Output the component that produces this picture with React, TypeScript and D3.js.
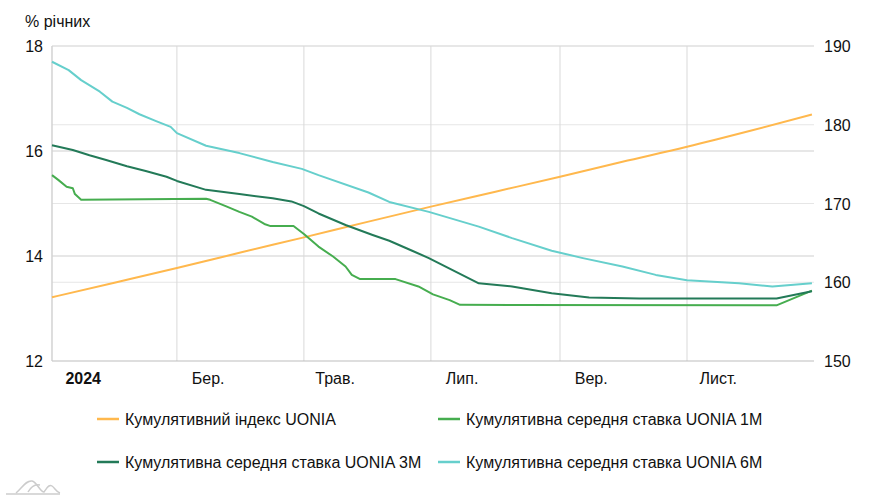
import React from "react";
import * as d3 from "d3";

const monthTicks = ["2024-01-01", "2024-03-01", "2024-05-01", "2024-07-01", "2024-09-01", "2024-11-01"];
const monthLabels = ["2024", "Бер.", "Трав.", "Лип.", "Вер.", "Лист."];
const leftTicks = [12, 14, 16, 18];
const rightTicks = [150, 160, 170, 180, 190];

const indexDates = ["2024-01-01", "2024-02-01", "2024-03-01", "2024-04-01", "2024-05-01", "2024-06-01", "2024-07-01", "2024-08-01", "2024-09-01", "2024-10-01", "2024-11-01", "2024-12-01", "2024-12-31"];
const indexValues = [158.1, 160.0, 161.8, 163.8, 165.7, 167.7, 169.6, 171.5, 173.4, 175.3, 177.2, 179.2, 181.3];

const m1Dates = ["2024-01-01", "2024-01-04", "2024-01-08", "2024-01-11", "2024-01-12", "2024-01-15", "2024-03-15", "2024-03-17", "2024-03-25", "2024-03-31", "2024-04-06", "2024-04-12", "2024-04-15", "2024-04-26", "2024-05-01", "2024-05-08", "2024-05-15", "2024-05-21", "2024-05-24", "2024-05-28", "2024-06-14", "2024-06-25", "2024-07-02", "2024-07-10", "2024-07-15", "2024-12-14", "2024-12-31"];
const m1Values = [15.54, 15.45, 15.32, 15.29, 15.18, 15.07, 15.09, 15.07, 14.94, 14.84, 14.75, 14.61, 14.57, 14.57, 14.42, 14.18, 13.99, 13.80, 13.64, 13.56, 13.56, 13.42, 13.27, 13.16, 13.07, 13.06, 13.34];

const m3Dates = ["2024-01-01", "2024-01-11", "2024-01-19", "2024-01-27", "2024-02-06", "2024-02-15", "2024-02-25", "2024-03-01", "2024-03-15", "2024-03-31", "2024-04-16", "2024-04-25", "2024-05-01", "2024-05-08", "2024-05-21", "2024-06-03", "2024-06-11", "2024-06-22", "2024-06-30", "2024-07-24", "2024-08-09", "2024-08-28", "2024-09-15", "2024-10-09", "2024-12-14", "2024-12-31"];
const m3Values = [16.11, 16.02, 15.92, 15.83, 15.71, 15.62, 15.51, 15.43, 15.26, 15.18, 15.10, 15.04, 14.95, 14.81, 14.59, 14.40, 14.29, 14.10, 13.96, 13.48, 13.42, 13.29, 13.21, 13.19, 13.19, 13.33];

const m6Dates = ["2024-01-01", "2024-01-09", "2024-01-15", "2024-01-24", "2024-01-30", "2024-02-06", "2024-02-12", "2024-02-20", "2024-02-27", "2024-03-01", "2024-03-15", "2024-03-31", "2024-04-16", "2024-04-30", "2024-05-08", "2024-06-01", "2024-06-11", "2024-06-30", "2024-07-24", "2024-08-09", "2024-08-28", "2024-09-12", "2024-10-01", "2024-10-17", "2024-11-01", "2024-11-26", "2024-12-12", "2024-12-31"];
const m6Values = [17.70, 17.54, 17.35, 17.13, 16.94, 16.82, 16.70, 16.57, 16.46, 16.34, 16.10, 15.96, 15.79, 15.66, 15.54, 15.21, 15.03, 14.84, 14.56, 14.34, 14.10, 13.96, 13.80, 13.64, 13.54, 13.48, 13.42, 13.48];

const seriesNames = [
  "Кумулятивний індекс UONIA",
  "Кумулятивна середня ставка UONIA 1M",
  "Кумулятивна середня ставка UONIA 3M",
  "Кумулятивна середня ставка UONIA 6M",
];
const colors = ["#ffb84d", "#46ad4f", "#237a58", "#66cfcc"];

const FONT = "'Liberation Sans', Arial, sans-serif";

export default function App() {
  const W = 891, H = 500;
  const left = 52, right = 814, top = 46, bottom = 361;
  const parse = d3.timeParse("%Y-%m-%d");
  const x = d3.scaleTime().domain([parse("2024-01-01")!, parse("2025-01-01")!]).range([left, right]);
  const yL = d3.scaleLinear().domain([12, 18]).range([bottom, top]);
  const yR = d3.scaleLinear().domain([150, 190]).range([bottom, top]);

  const mk = (dates: string[], vals: number[], y: d3.ScaleLinear<number, number>, curve: d3.CurveFactory) =>
    d3.line<number>().x((_, i) => x(parse(dates[i])!)).y((v) => y(v)).curve(curve)(vals) || "";

  const paths = [
    mk(indexDates, indexValues, yR, d3.curveMonotoneX),
    mk(m1Dates, m1Values, yL, d3.curveLinear),
    mk(m3Dates, m3Values, yL, d3.curveLinear),
    mk(m6Dates, m6Values, yL, d3.curveLinear),
  ];

  const legendPos = [
    [97, 419], [438, 419], [97, 462], [438, 462],
  ];

  return (
    <svg width={W} height={H} style={{ position: "absolute", left: 0, top: 0, background: "#fff" }} fontFamily={FONT}>
      {rightTicks.filter((t) => t !== 150 && t !== 190).map((t) => (
        <line key={"r" + t} x1={left} x2={right} y1={yR(t)} y2={yR(t)} stroke="#e6e6e6" strokeWidth={1} />
      ))}
      {leftTicks.filter((t) => t !== 12).map((t) => (
        <line key={"l" + t} x1={left} x2={right} y1={yL(t)} y2={yL(t)} stroke="#cfcfcf" strokeWidth={1} />
      ))}
      {monthTicks.map((d) => (
        <line key={d} x1={x(parse(d)!)} x2={x(parse(d)!)} y1={top} y2={bottom} stroke="#d9d9d9" strokeWidth={1} />
      ))}
      <line x1={left} x2={right} y1={bottom} y2={bottom} stroke="#bdbdbd" strokeWidth={1} />
      <line x1={left} x2={left} y1={top} y2={bottom} stroke="#cfcfcf" strokeWidth={1} />

      {leftTicks.map((t) => (
        <text key={"lt" + t} x={43} y={yL(t) + 6} textAnchor="end" fontSize={16} fill="#111">{t}</text>
      ))}
      {rightTicks.map((t) => (
        <text key={"rt" + t} x={824} y={yR(t) + 6} fontSize={16} fill="#111">{t}</text>
      ))}
      {monthTicks.map((d, i) => {
        const st = parse(d)!;
        const mid = new Date(st.getFullYear(), st.getMonth(), 16);
        return (
          <text key={"mt" + d} x={x(mid)} y={384} textAnchor="middle" fontSize={16} fill="#111" fontWeight={i === 0 ? "bold" : "normal"}>
            {monthLabels[i]}
          </text>
        );
      })}
      <text x={25} y={27} fontSize={16} fill="#111">% річних</text>

      {paths.map((p, i) => (
        <path key={"p" + i} d={p} fill="none" stroke={colors[i]} strokeWidth={2} strokeLinejoin="round" />
      ))}

      {seriesNames.map((n, i) => (
        <g key={"lg" + i}>
          <line x1={legendPos[i][0]} x2={legendPos[i][0] + 22} y1={legendPos[i][1]} y2={legendPos[i][1]} stroke={colors[i]} strokeWidth={2.5} />
          <text x={legendPos[i][0] + 28} y={legendPos[i][1] + 6} fontSize={16} fill="#111">{n}</text>
        </g>
      ))}

      <g fill="none" stroke="#cccccc" strokeWidth={1.5}>
        <path d="M6,494 L60,494" />
        <path d="M16,493 C22,488 26,480 32,481 C37,482 40,492 44,492 C47,488 49,484 52,486 C55,488 56,492 60,493" />
        <path d="M28,492 C32,485 36,484 40,485" />
      </g>
    </svg>
  );
}
